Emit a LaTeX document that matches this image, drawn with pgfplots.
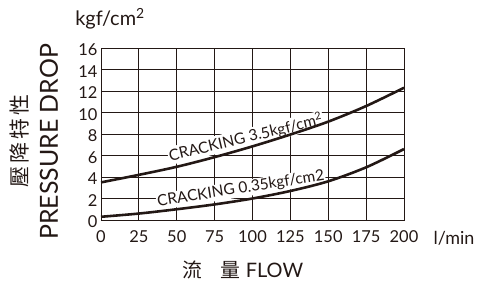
\documentclass[border=0pt]{standalone}
\usepackage{pgfplots}
\pgfplotsset{compat=1.18}
\usepackage{fontspec}
\setmainfont{Lato}[Numbers=Monospaced]
\newfontfamily\cjk{Noto Sans CJK TC}
\definecolor{ink}{HTML}{231815}
\begin{document}
\begin{tikzpicture}[x=1bp,y=1bp]
\useasboundingbox (0,0) rectangle (478,287);
\begin{axis}[at={(101bp,67bp)}, anchor=south west, scale only axis,
  width=303bp, height=172bp,
  xmin=0, xmax=200, ymin=0, ymax=16,
  xtick={0,25,...,200}, ytick={0,2,...,16},
  grid=major, grid style={ink, line width=0.8pt},
  axis line style={ink, line width=0.9pt},
  tick style={draw=none},
  ticklabel style={font=\fontsize{16.5}{16.5}\selectfont, text=ink},
  /pgf/number format/assume math mode=true,
  xticklabel style={yshift=-7bp},
  yticklabel style={xshift=0bp, yshift=-2bp},
  clip=false]
\node[fill=white, inner sep=1bp, anchor=base west, rotate=13.5, text=ink, font=\fontsize{15.5}{15.5}\selectfont] at (axis cs:45,5.45) {CRACKING 3.5kgf/cm\textsuperscript{2}};
\node[fill=white, inner sep=1bp, anchor=base west, rotate=9, text=ink, font=\fontsize{15.5}{15.5}\selectfont] at (axis cs:37,1.25) {CRACKING 0.35kgf/cm2};
\addplot[ink, line width=2.6pt, smooth] coordinates {(0,3.5) (25,4.2) (50,4.95) (75,5.85) (100,6.85) (125,7.95) (150,9.15) (175,10.6) (200,12.3)};
\addplot[ink, line width=2.6pt, smooth] coordinates {(0,0.3) (25,0.6) (50,1.0) (75,1.45) (100,2.0) (125,2.7) (150,3.6) (175,4.9) (200,6.6)};
\end{axis}
\node[text=ink, font=\fontsize{20}{20}\selectfont] at (110,268) {kgf/cm\textsuperscript{2}};
\node[text=ink, font=\fontsize{18}{18}\selectfont] at (454,49) {l/min};
\node[text=ink, rotate=90, font=\fontsize{25}{25}\selectfont] at (49,145) {PRESSURE DROP};
\node[text=ink, rotate=90, font=\cjk\fontsize{21}{21}\selectfont] at (20,146) {壓\hspace{3bp}降\hspace{3bp}特\hspace{3bp}性};
\node[text=ink, font=\fontsize{20}{20}\selectfont] at (243,17) {{\cjk 流}\hspace{18bp}{\cjk 量} FLOW};
\end{tikzpicture}
\end{document}
